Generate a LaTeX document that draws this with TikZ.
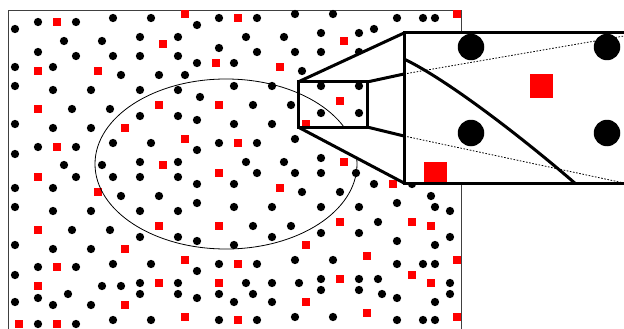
\documentclass[tikz,border=0pt]{standalone}
\usetikzlibrary{calc}

\begin{document}
\begin{tikzpicture}[x=1pt, y=-1pt,
      dot/.style={circle, fill=black, minimum size=8.3pt, inner sep=0pt},
      sqr/.style={fill=red, minimum size=8.6pt, inner sep=0pt},
      bigdot/.style={circle, fill=black, minimum size=26.5pt, inner sep=0pt},
      bigsqr/.style={fill=red, minimum size=23pt, inner sep=0pt},
      lens/.style={line width=3pt, line join=miter},
      guide/.style={line width=0.8pt, dash pattern=on 1.6pt off 1.6pt}
    ]
      \useasboundingbox (0,0) rectangle (624,329);
      \clip (0,0) rectangle (624,329);

      % sample area
      \draw[line width=0.9pt, black!75] (8,10) rectangle (461,340);

      % black particles
      \foreach \px/\py in {15/29,38/22,76/22,113/18,151/18,197/25,219/18,
          64/41,102/41,140/37,178/37,38/52,76/56,113/56,140/56,178/56,219/48,
          15/67,53/67,121/75,159/75,185/75,197/63,15/86,53/90,91/90,140/90,178/90,200/97,
          72/109,110/109,140/116,178/116,197/120,15/124,53/128,91/128,
          38/147,76/147,113/143,151/143,197/150,219/143,15/154,64/165,102/165,140/162,178/162,
          76/177,113/177,140/177,178/177,197/184,15/188,53/188,121/196,159/196,197/203,
          15/207,53/211,91/211,140/211,178/211,72/230,110/230,140/237,178/237,197/241,
          15/245,53/249,91/249,113/264,151/264,197/271,219/264,38/267,76/267,
          15/275,102/286,121/286,140/283,178/283,140/294,178/294,197/298,219/294,38/298,68/294,
          15/302,53/305,91/305,113/320,151/320,219/320,38/324,76/324}
        \node[dot] at (\px,\py) {};
      \foreach \px/\py in {257/18,295/14,333/14,397/18,423/18,435/18,
          246/37,284/37,321/33,359/33,374/29,257/52,295/52,321/52,359/52,
          234/63,302/71,234/86,272/86,321/86,359/86,253/105,291/105,321/113,359/113,
          234/124,272/124,257/143,295/139,246/162,284/162,321/158,
          257/173,295/173,321/173,356/173,234/184,302/192,340/192,374/184,412/184,
          234/207,272/207,321/207,359/207,397/203,431/196,435/207,450/211,
          253/226,291/226,378/222,272/237,321/233,359/233,234/245,397/241,435/245,450/237,
          257/264,295/260,333/260,397/264,423/264,435/264,
          246/283,272/283,299/283,321/279,359/279,378/279,450/283,
          321/290,359/290,253/294,382/294,450/294,397/298,234/302,272/302,435/302,
          295/317,333/317,257/320,397/320,423/320,435/320}
        \node[dot] at (\px,\py) {};

      % red particles
      \foreach \px/\py in {57/22,185/14,163/44,38/71,98/71,216/63,38/109,159/105,219/105,
          125/128,57/147,185/139,163/165,219/173,38/177,98/192,38/230,159/226,219/226,
          125/249,185/260,57/267,159/283,219/283,38/286,125/305,185/317,19/324,57/324,
          238/18,457/14,344/41,280/67,340/101,306/124,238/143,344/162,
          393/184,280/188,340/222,412/222,431/226,306/245,367/256,238/264,457/260,
          340/279,412/275,431/283,306/302,367/313,238/320,457/317}
        \node[sqr] at (\px,\py) {};

      % region of interest
      \draw[line width=0.8pt] (226,164) ellipse [x radius=131, y radius=85];

      % corners of the magnifier
      \coordinate (sTL) at (298,82);
      \coordinate (sTR) at (367,82);
      \coordinate (sBR) at (367,127);
      \coordinate (sBL) at (298,127);
      \coordinate (bTL) at (404,33);
      \coordinate (bBL) at (404,183);
      \coordinate (bTR) at (640,33);
      \coordinate (bBR) at (640,183);
      \coordinate (rT) at (404,74);
      \coordinate (rB) at (404,136);
      \coordinate (fT) at (624,36);
      \coordinate (fB) at (624,183);

      \fill[white, even odd rule] (sTL) -- (bTL) -- (bBL) -- (sBL) -- cycle
        (sTL) rectangle (sBR);
      \fill[white] (bTL) rectangle (bBR);

      % enlarged view
      \begin{scope}
        \clip (bTL) rectangle (bBR);
        \draw[guide] (rT) -- (fT);
        \draw[guide] (rB) -- (fB);
        \node[bigdot] (d1) at (471,47) {};
        \node[bigdot] (d2) at (607,47) {};
        \node[bigdot] (d3) at (471,133) {};
        \node[bigdot] (d4) at (607,133) {};
        \node[bigsqr] (q1) at (541,86) {};
        \node[bigsqr] (q2) at (435,173) {};
        \draw[line width=3pt] (404,59) .. controls (450,81) and (530,144) .. (577,185);
      \end{scope}

      \draw[lens] (bTL) rectangle (bBR);
      \draw[lens] (sTL) rectangle (sBR);
      \draw[lens] (sTL) -- (bTL);
      \draw[lens] (sBL) -- (bBL);
      \draw[lens] (sTR) -- (rT);
      \draw[lens] (sBR) -- (rB);
    \end{tikzpicture}
\end{document}
